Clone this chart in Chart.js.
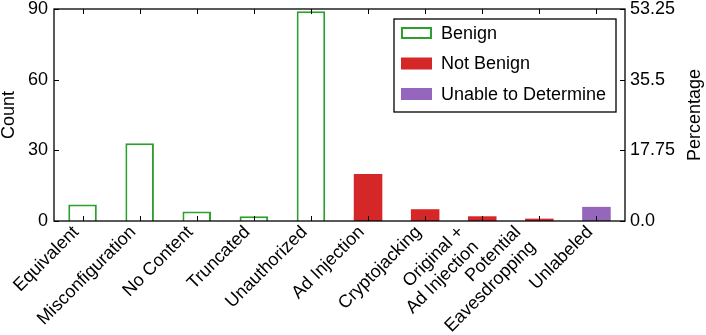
<!DOCTYPE html>
<html>
<head>
<meta charset="utf-8">
<script src="https://cdn.jsdelivr.net/npm/chart.js@4.4.1/dist/chart.umd.min.js"></script>
<style>
  html, body { margin: 0; padding: 0; background: #fff; }
  #wrap { width: 706px; height: 335px; }
</style>
</head>
<body>
<div id="wrap"><canvas id="barChart" width="706" height="335"></canvas></div>
<script>
const categories = ['Equivalent', 'Misconfiguration', 'No Content', 'Truncated', 'Unauthorized',
  'Ad Injection', 'Cryptojacking', ['Original +', 'Ad Injection'], ['Potential', 'Eavesdropping'], 'Unlabeled'];
const benign    = [7, 33, 4, 2, 89, null, null, null, null, null];
const notBenign = [null, null, null, null, null, 20, 5, 2, 1, null];
const unable    = [null, null, null, null, null, null, null, null, null, 6];
const countTicks = [0, 30, 60, 90];
const pctTicks = [0, 17.75, 35.5, 53.25];

const FONT = "'Liberation Sans', Arial, sans-serif";
const GREEN = '#2ca02c', RED = '#d62728', PURPLE = '#9467bd';

// frame + inward tick marks, matplotlib style
const frame = {
  id: 'frame',
  afterDatasetsDraw(chart) {
    const {ctx, chartArea: a, scales} = chart;
    ctx.save();
    ctx.strokeStyle = '#000';
    ctx.lineWidth = 1.3;
    ctx.strokeRect(a.left, a.top, a.right - a.left, a.bottom - a.top);
    ctx.lineWidth = 1;
    ctx.beginPath();
    scales.x.ticks.forEach((t, i) => {
      const x = Math.round(scales.x.getPixelForTick(i)) + 0.5;
      ctx.moveTo(x, a.bottom); ctx.lineTo(x, a.bottom - 5);
      ctx.moveTo(x, a.top); ctx.lineTo(x, a.top + 5);
    });
    countTicks.forEach(v => {
      const y = Math.round(scales.y.getPixelForValue(v)) + 0.5;
      ctx.moveTo(a.left, y); ctx.lineTo(a.left + 5, y);
    });
    pctTicks.forEach(v => {
      const y = Math.round(scales.y2.getPixelForValue(v)) + 0.5;
      ctx.moveTo(a.right, y); ctx.lineTo(a.right - 5, y);
    });
    ctx.stroke();
    ctx.restore();

    // x labels: rotated 45deg, right edge of the rotated box on the tick
    const s = Math.SQRT1_2, step = 21;
    ctx.save();
    ctx.fillStyle = '#000';
    ctx.font = '18px ' + FONT;
    ctx.textAlign = 'right';
    ctx.textBaseline = 'top';
    chart.data.labels.forEach((lab, i) => {
      const lines = Array.isArray(lab) ? lab : [lab];
      const h = lines.length * step;
      const x0 = scales.x.getPixelForTick(i) - h * s + 2;
      ctx.save();
      ctx.translate(x0, a.bottom + 2);
      ctx.rotate(-Math.PI / 4);
      lines.forEach((ln, j) => ctx.fillText(ln, 0, j * step));
      ctx.restore();
    });

    // right axis title, reading bottom to top like the left one
    ctx.font = '18px ' + FONT;
    ctx.textAlign = 'center';
    ctx.textBaseline = 'middle';
    ctx.translate(scales.y2.right - 10.5, (a.top + a.bottom) / 2);
    ctx.rotate(-Math.PI / 2);
    ctx.fillText('Percentage', 0, 0);
    ctx.restore();
  }
};

// boxed legend inside the plot, top right
const boxLegend = {
  id: 'boxLegend',
  afterDraw(chart) {
    const {ctx, chartArea: a} = chart;
    const w = 222, h = 93;
    const x0 = a.right - 9 - w, y0 = a.top + 10;
    ctx.save();
    ctx.fillStyle = '#fff';
    ctx.fillRect(x0, y0, w, h);
    ctx.strokeStyle = '#000';
    ctx.lineWidth = 1.3;
    ctx.strokeRect(x0, y0, w, h);
    ctx.font = '18px ' + FONT;
    ctx.textBaseline = 'middle';
    chart.data.datasets.forEach((ds, i) => {
      const cy = y0 + 14 + i * 30.5;
      if (ds.backgroundColor === '#ffffff') {
        ctx.fillStyle = '#fff';
        ctx.fillRect(x0 + 7, cy - 6, 31, 12);
        ctx.strokeStyle = ds.borderColor;
        ctx.lineWidth = 2;
        ctx.strokeRect(x0 + 8, cy - 5, 29, 10);
      } else {
        ctx.fillStyle = ds.backgroundColor;
        ctx.fillRect(x0 + 7, cy - 6, 31, 12);
      }
      ctx.fillStyle = '#000';
      ctx.fillText(ds.label, x0 + 47, cy + 1);
    });
    ctx.restore();
  }
};

const barOpts = {grouped: false, barPercentage: 0.5, categoryPercentage: 1.0};

function fixY(width) {
  return s => { s.width = width; s.paddingTop = 0; s.paddingBottom = 0; };
}

new Chart(document.getElementById('barChart'), {
  type: 'bar',
  data: {
    labels: categories,
    datasets: [
      Object.assign({label: 'Benign', data: benign, backgroundColor: '#ffffff',
        borderColor: GREEN, borderWidth: 2}, barOpts),
      Object.assign({label: 'Not Benign', data: notBenign, backgroundColor: RED,
        borderWidth: 0}, barOpts),
      Object.assign({label: 'Unable to Determine', data: unable, backgroundColor: PURPLE,
        borderWidth: 0}, barOpts)
    ]
  },
  options: {
    responsive: false,
    animation: false,
    layout: {padding: {top: 9, left: 0, right: 0, bottom: 0}},
    plugins: {legend: {display: false}, tooltip: {enabled: false}},
    scales: {
      x: {
        grid: {display: false, drawTicks: false},
        border: {display: false},
        ticks: {display: false, autoSkip: false},
        afterFit(s) { s.height = 114; s.paddingLeft = 0; s.paddingRight = 0; }
      },
      y: {
        position: 'left',
        min: 0, max: countTicks[countTicks.length - 1],
        afterBuildTicks(s) { s.ticks = countTicks.map(v => ({value: v})); },
        grid: {display: false, drawTicks: false},
        border: {display: false},
        ticks: {padding: 6, color: '#000', font: {family: FONT, size: 18}},
        title: {display: true, text: 'Count', color: '#000', padding: 0,
          font: {family: FONT, size: 18, lineHeight: 1}},
        afterFit: fixY(54)
      },
      y2: {
        position: 'right',
        min: 0, max: pctTicks[pctTicks.length - 1],
        afterBuildTicks(s) { s.ticks = pctTicks.map(v => ({value: v})); },
        grid: {display: false, drawTicks: false},
        border: {display: false},
        ticks: {padding: 5, color: '#000', font: {family: FONT, size: 18},
          callback: v => v === 0 ? '0.0' : String(v)},
        afterFit: fixY(81)
      }
    }
  },
  plugins: [frame, boxLegend]
});
</script>
</body>
</html>
